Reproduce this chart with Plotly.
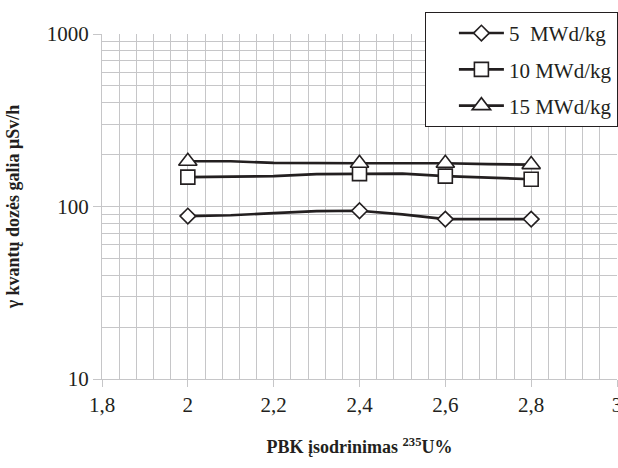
import plotly.graph_objects as go

enrichment = [2.0, 2.1, 2.2, 2.3, 2.4, 2.5, 2.6, 2.7, 2.8]
dose_5 = [88, 89, 91.5, 94, 94.5, 90, 84.5, 84.5, 84.5]
dose_10 = [148, 149, 150, 154, 155, 155, 150, 147, 144]
dose_15 = [183, 183, 179, 178, 178, 178, 178, 176, 175]
marked = [2.0, 2.4, 2.6, 2.8]
series_names = ["5\u00a0\u00a0MWd/kg", "10 MWd/kg", "15 MWd/kg"]

INK = "#231f20"
GRID = "#c6c6c8"
FONT = "Liberation Serif"

fig = go.Figure()
styles = [("diamond", 12), ("square", 14), ("triangle-up", 16)]
for name, ys, (sym, sz) in zip(series_names, [dose_5, dose_10, dose_15], styles):
    show = [x in marked for x in enrichment]
    fig.add_trace(go.Scatter(
        x=enrichment, y=ys, name=name, mode="lines+markers",
        legendgroup=name,
        line=dict(color=INK, width=2.6),
        marker=dict(
            symbol=sym, size=sz,
            color=["white" if s else "rgba(0,0,0,0)" for s in show],
            line=dict(width=1.6, color=[INK if s else "rgba(0,0,0,0)" for s in show]),
        ),
    ))

fig.update_layout(
    width=618, height=468,
    margin=dict(l=102, r=1, t=34, b=89, autoexpand=False),
    paper_bgcolor="white", plot_bgcolor="white",
    separators=", ",
    font=dict(family=FONT, size=21, color=INK),
    showlegend=True,
    legend=dict(
        x=0.627, xanchor="left", y=1.064, yanchor="top",
        bgcolor="white", bordercolor=INK, borderwidth=1,
        font=dict(family=FONT, size=21, color=INK),
        traceorder="grouped", tracegroupgap=6,
        itemwidth=45, indentation=28,
    ),
)

fig.update_xaxes(
    range=[1.8, 3.0], dtick=0.2, tick0=1.8,
    automargin=False, ticklabeloverflow="allow",
    showgrid=True, gridcolor=GRID, gridwidth=1.3,
    minor=dict(dtick=0.04, tick0=1.8, showgrid=True, gridcolor=GRID, gridwidth=1.3, ticks=""),
    ticks="outside", ticklen=7, tickcolor=GRID, tickwidth=1.3,
    showline=True, linecolor=GRID, linewidth=1.3,
    zeroline=False,
    tickfont=dict(family=FONT, size=21, color=INK),
    title=dict(text="<b>PBK įsodrinimas <sup>235</sup>U%</b>",
               font=dict(family=FONT, size=18, color=INK), standoff=24),
)
fig.update_yaxes(
    type="log", range=[1, 3], dtick=1,
    automargin=False,
    exponentformat="none",
    showgrid=True, gridcolor=GRID, gridwidth=1.3,
    minor=dict(dtick="D1", showgrid=True, gridcolor=GRID, gridwidth=1.3, ticks=""),
    ticks="outside", ticklen=8, tickcolor=GRID, tickwidth=1.3,
    showline=True, linecolor=GRID, linewidth=1.3,
    tickfont=dict(family=FONT, size=21, color=INK),
    title=dict(text="<b>γ kvantų dozės galia μSv/h</b>",
               font=dict(family=FONT, size=18, color=INK), standoff=22),
)

fig.write_html("out.html", config={"displayModeBar": False},
               post_script="document.body.style.margin='0';")
